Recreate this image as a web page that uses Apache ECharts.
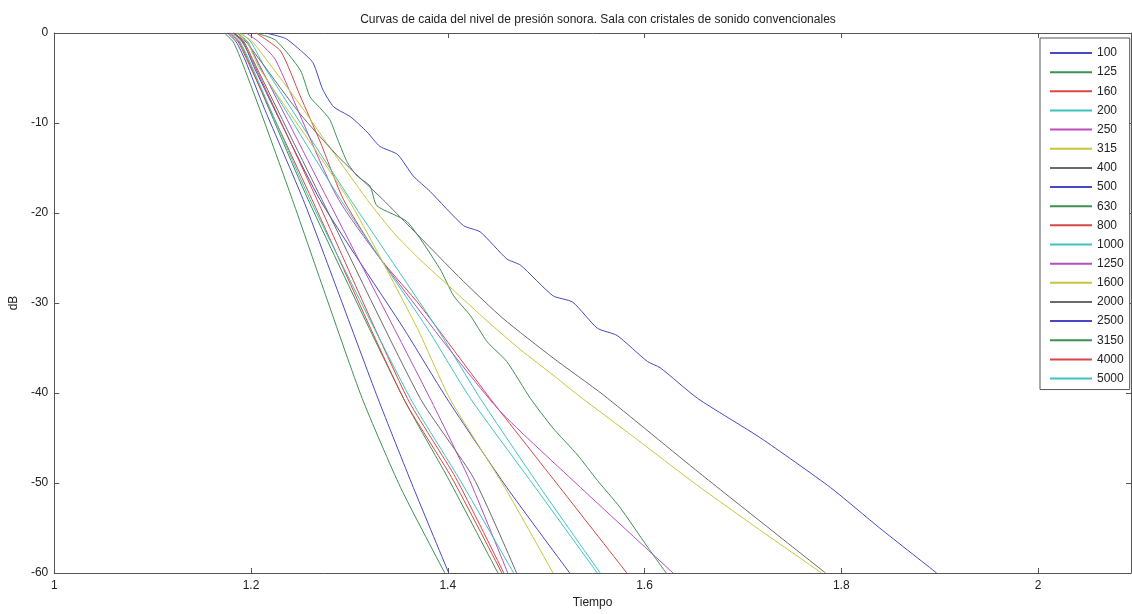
<!DOCTYPE html>
<html>
<head>
<meta charset="utf-8">
<title>Curvas de caida</title>
<script src="https://cdn.jsdelivr.net/npm/echarts@6/dist/echarts.min.js"></script>
<style>
  html, body { margin: 0; padding: 0; background: #fff; }
  #chart { width: 1132px; height: 614px; }
</style>
</head>
<body>
<div id="chart"></div>
<script>
// bandas de tercio de octava (Hz)
var bandas = ['100', '125', '160', '200', '250', '315', '400', '500', '630',
  '800', '1000', '1250', '1600', '2000', '2500', '3150', '4000', '5000'];
// ciclo de colores estilo matlab (b g r c m y k)
var colores = ['#4848c4', '#3d9150', '#d84646', '#3fc2c2', '#b94cc0', '#c6c63c', '#6a6a6a'];

// curvas [tiempo s, nivel dB]
var c100 = [[1.215, 0], [1.235, -0.6], [1.25, -1.9], [1.263, -3.3], [1.273, -6.3], [1.284, -8.2], [1.301, -9.3],
  [1.318, -11], [1.331, -12.6], [1.349, -13.5], [1.365, -15.9], [1.382, -17.6], [1.416, -21.4], [1.433, -22.1],
  [1.46, -25.1], [1.474, -25.8], [1.507, -29.2], [1.527, -29.9], [1.552, -32.8], [1.572, -33.6], [1.603, -36.5],
  [1.616, -37.2], [1.654, -40.6], [1.718, -45], [1.789, -50.5], [1.839, -55], [1.897, -60]];
var c125 = [[1.205, 0], [1.225, -0.8], [1.25, -4.1], [1.26, -7.1], [1.27, -8.3], [1.28, -9.6], [1.288, -11.8],
  [1.298, -14.4], [1.308, -15.9], [1.321, -17], [1.328, -19.2], [1.359, -21], [1.392, -26.2], [1.406, -29.2],
  [1.423, -31.4], [1.44, -34.3], [1.46, -36.5], [1.484, -40.6], [1.507, -43.9], [1.532, -46.9], [1.552, -49.7],
  [1.575, -52.7], [1.603, -57.1], [1.622, -60]];
var c160 = [[1.205, 0], [1.23, -2], [1.25, -7], [1.27, -12], [1.294, -18.5], [1.331, -25], [1.372, -30.3],
  [1.443, -40.6], [1.514, -50.5], [1.582, -60]];
var c200 = [[1.19, 0], [1.2, -1], [1.215, -4], [1.301, -18.5], [1.389, -32.8], [1.433, -40.6], [1.494, -50.5], [1.555, -60]];
var c250 = [[1.195, 0], [1.208, -1], [1.225, -3], [1.289, -18.5], [1.385, -32.8], [1.453, -42], [1.535, -50.5], [1.629, -60]];
var c315 = [[1.187, 0], [1.2, -0.8], [1.216, -3], [1.25, -8], [1.28, -12.7], [1.318, -18.5], [1.345, -22.2], [1.372, -25.2],
  [1.405, -28.5], [1.44, -32], [1.474, -35.2], [1.507, -38], [1.532, -40.2], [1.588, -44.8], [1.653, -50.2],
  [1.717, -55.2], [1.78, -60]];
var c400 = [[1.182, 0], [1.195, -1], [1.209, -3], [1.25, -9], [1.291, -14], [1.334, -18.5], [1.362, -21.6], [1.416, -27.6],
  [1.456, -31.7], [1.507, -36.1], [1.558, -40.2], [1.656, -48.9], [1.784, -60]];
var c500 = [[1.182, 0], [1.192, -1], [1.204, -4], [1.27, -18.5], [1.355, -32.8], [1.399, -40.6], [1.46, -50.5], [1.524, -60]];
var c630 = [[1.179, 0], [1.188, -1], [1.197, -3], [1.258, -18.5], [1.355, -40.6], [1.4, -49.4], [1.451, -60]];
var c800 = [[1.182, 0], [1.191, -1], [1.201, -3], [1.267, -18.5], [1.359, -40.6], [1.408, -49.4], [1.457, -60]];
var c1000 = [[1.186, 0], [1.197, -1], [1.21, -4], [1.291, -18.5], [1.379, -32.8], [1.423, -40.6], [1.489, -50.5], [1.552, -60]];
var c1250 = [[1.186, 0], [1.196, -1], [1.206, -3], [1.278, -18.5], [1.382, -40.6], [1.421, -49.4], [1.461, -60]];
var c1600 = [[1.185, 0], [1.196, -1], [1.209, -4], [1.299, -18.5], [1.369, -32.8], [1.402, -40.6], [1.458, -50.5], [1.507, -60]];
var c2000 = [[1.183, 0], [1.193, -1], [1.202, -3], [1.272, -18.5], [1.372, -40.6], [1.426, -49.4], [1.47, -60]];
var c2500 = [[1.176, 0], [1.185, -1], [1.194, -3], [1.214, -8.5], [1.253, -18.5], [1.291, -29.5], [1.329, -40.6], [1.365, -50.5], [1.401, -60]];
var c3150 = [[1.173, 0], [1.182, -1], [1.19, -3], [1.209, -8.5], [1.242, -18.5], [1.277, -29.5], [1.313, -40.6], [1.352, -50.5], [1.397, -60]];
var c4000 = [[1.178, 0], [1.187, -1], [1.196, -3], [1.262, -18.5], [1.355, -40.6], [1.404, -49.4], [1.455, -60]];
var c5000 = [[1.18, 0], [1.189, -1], [1.198, -3], [1.26, -18.5], [1.362, -40.6], [1.411, -49.4], [1.467, -60]];

var curvas = [c100, c125, c160, c200, c250, c315, c400, c500, c630,
  c800, c1000, c1250, c1600, c2000, c2500, c3150, c4000, c5000];

var tMin = 1, tMax = 2.0945;
var fuente = 'Liberation Sans, Arial, sans-serif';

var series = bandas.map(function (b, i) {
  var col = colores[i % colores.length];
  return {
    name: b,
    type: 'line',
    data: curvas[i],
    showSymbol: false,
    symbol: 'none',
    smooth: 0.2,
    color: col,
    lineStyle: { color: col, width: 1 },
    itemStyle: { color: col },
    emphasis: { disabled: true },
    animation: false
  };
});

var chart = echarts.init(document.getElementById('chart'));
chart.setOption({
  backgroundColor: '#fff',
  animation: false,
  title: {
    text: 'Curvas de caida del nivel de presión sonora. Sala con cristales de sonido convencionales',
    left: 593,
    textAlign: 'center',
    top: 9,
    textStyle: { fontFamily: fuente, fontSize: 12, fontWeight: 'normal', color: '#222' }
  },
  grid: { left: 54, right: 1, top: 33, bottom: 38 },
  legend: {
    data: bandas,
    orient: 'vertical',
    left: 1040,
    top: 38,
    padding: [8, 6, 4, 10],
    itemWidth: 42,
    itemHeight: 2,
    itemGap: 5.15,
    icon: 'rect',
    backgroundColor: '#fff',
    borderColor: '#555',
    borderWidth: 1,
    textStyle: { fontFamily: fuente, fontSize: 12, color: '#222', lineHeight: 14 }
  },
  xAxis: [{
    type: 'value',
    min: tMin,
    max: tMax,
    interval: 0.2,
    name: 'Tiempo',
    nameLocation: 'middle',
    nameGap: 24,
    nameTextStyle: { fontFamily: fuente, fontSize: 12, color: '#222' },
    axisLine: { show: true, onZero: false, lineStyle: { color: '#555' } },
    axisTick: { show: true, inside: true, length: 5, lineStyle: { color: '#555' } },
    axisLabel: { fontFamily: fuente, fontSize: 12, color: '#222', margin: 7, showMaxLabel: false },
    splitLine: { show: false }
  }, {
    type: 'value',
    position: 'top',
    min: tMin,
    max: tMax,
    interval: 0.2,
    axisLine: { show: true, onZero: false, lineStyle: { color: '#555' } },
    axisTick: { show: true, inside: true, length: 5, lineStyle: { color: '#555' } },
    axisLabel: { show: false },
    splitLine: { show: false }
  }],
  yAxis: [{
    type: 'value',
    min: -60,
    max: 0,
    interval: 10,
    name: 'dB',
    nameLocation: 'middle',
    nameGap: 32,
    nameRotate: 90,
    nameTextStyle: { fontFamily: fuente, fontSize: 12, color: '#222' },
    axisLine: { show: true, onZero: false, lineStyle: { color: '#555' } },
    axisTick: { show: true, inside: true, length: 5, lineStyle: { color: '#555' } },
    axisLabel: { fontFamily: fuente, fontSize: 12, color: '#222', margin: 6 },
    splitLine: { show: false }
  }, {
    type: 'value',
    position: 'right',
    min: -60,
    max: 0,
    interval: 10,
    axisLine: { show: true, onZero: false, lineStyle: { color: '#555' } },
    axisTick: { show: true, inside: true, length: 5, lineStyle: { color: '#555' } },
    axisLabel: { show: false },
    splitLine: { show: false }
  }],
  series: series
});
</script>
</body>
</html>
